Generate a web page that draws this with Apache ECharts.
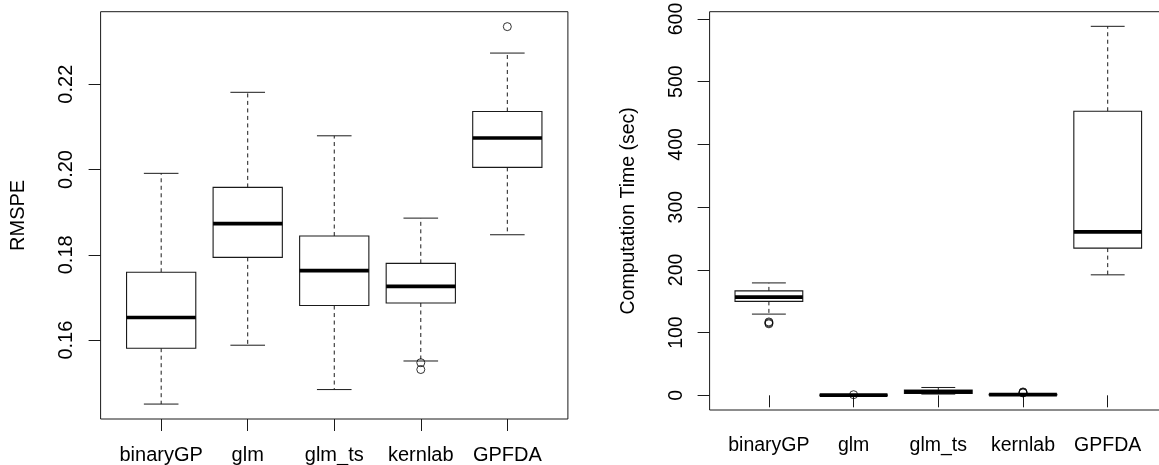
<!DOCTYPE html>
<html>
<head>
<meta charset="utf-8">
<script src="https://cdn.jsdelivr.net/npm/echarts@6/dist/echarts.min.js"></script>
<style>
html,body{margin:0;padding:0;background:#fff;}
#c{width:1159px;height:465px;}
</style>
</head>
<body>
<div id="c"></div>
<script>
// ---- data ----
const categories = ['binaryGP', 'glm', 'glm_ts', 'kernlab', 'GPFDA'];

// [min, Q1, median, Q3, max]
const rmspeStats = [
  [0.1450, 0.1581, 0.1653, 0.1759, 0.1991],
  [0.1588, 0.1794, 0.1873, 0.1958, 0.2181],
  [0.1484, 0.1681, 0.1763, 0.1844, 0.2079],
  [0.1551, 0.1687, 0.1726, 0.1780, 0.1886],
  [0.1847, 0.2005, 0.2074, 0.2136, 0.2273]
];
// [categoryIndex (1-based), value]
const rmspeOutliers = [[4, 0.1547], [4, 0.1531], [5, 0.2335]];

const timeStats = [
  [129.5, 149.8, 156.5, 166.5, 179.2],
  [0.1, 0.2, 0.3, 0.45, 0.7],
  [2.0, 3.0, 5.5, 8.5, 12.5],
  [0.3, 0.7, 1.1, 1.6, 2.6],
  [192.1, 234.7, 260.6, 452.9, 588.3]
];
const timeOutliers = [[1, 114], [1, 115.5], [1, 117], [2, 1.0], [4, 3.8], [4, 4.6], [4, 5.4]];

const rmspeTicks = [0.16, 0.18, 0.20, 0.22];
const timeTicks = [0, 100, 200, 300, 400, 500, 600];
const catTicks = [1, 2, 3, 4, 5];

// ---- chart ----
const FONT = "'Liberation Sans', Arial, Helvetica, sans-serif";
const LINE = '#1a1a1a';

function toBoxData(stats) {
  return stats.map((s, i) => [i + 1].concat(s));
}

function renderBox(params, api) {
  const x = api.value(0);
  const vals = [1, 2, 3, 4, 5].map(d => api.coord([x, api.value(d)])[1]);
  const cx = api.coord([x, api.value(3)])[0];
  const half = api.size([0.4, 0])[0];
  const capHalf = api.size([0.2, 0])[0];
  const [yMin, yQ1, yMed, yQ3, yMax] = vals;
  return {
    type: 'group',
    children: [
      { type: 'line', shape: { x1: cx, y1: yQ3, x2: cx, y2: yMax },
        style: { stroke: LINE, lineWidth: 1, lineDash: [4, 3.5] } },
      { type: 'line', shape: { x1: cx, y1: yQ1, x2: cx, y2: yMin },
        style: { stroke: LINE, lineWidth: 1, lineDash: [4, 3.5] } },
      { type: 'line', shape: { x1: cx - capHalf, y1: yMax, x2: cx + capHalf, y2: yMax },
        style: { stroke: LINE, lineWidth: 1 } },
      { type: 'line', shape: { x1: cx - capHalf, y1: yMin, x2: cx + capHalf, y2: yMin },
        style: { stroke: LINE, lineWidth: 1 } },
      { type: 'rect', shape: { x: cx - half, y: yQ3, width: half * 2, height: yQ1 - yQ3 },
        style: { fill: '#fff', stroke: LINE, lineWidth: 1.1 } },
      { type: 'line', shape: { x1: cx - half, y1: yMed, x2: cx + half, y2: yMed },
        style: { stroke: '#000', lineWidth: 3.6 } }
    ]
  };
}

function xAxisCfg(gridIndex, fontSize, margin) {
  return {
    type: 'value', gridIndex: gridIndex, min: 0.3, max: 5.7,
    splitLine: { show: false }, axisLine: { show: false },
    axisTick: { show: true, length: 12, customValues: catTicks, lineStyle: { color: LINE, width: 1 } },
    axisLabel: {
      customValues: catTicks, margin: margin, color: '#000', fontSize: fontSize, fontFamily: FONT,
      formatter: v => categories[Math.round(v) - 1]
    }
  };
}

function yAxisCfg(gridIndex, min, max, ticks, fmt, name, fontSize, margin, nameGap) {
  return {
    type: 'value', gridIndex: gridIndex, min: min, max: max,
    splitLine: { show: false }, axisLine: { show: false },
    axisTick: { show: true, length: 12, customValues: ticks, lineStyle: { color: LINE, width: 1 } },
    axisLabel: {
      customValues: ticks, rotate: 90, margin: margin, color: '#000', fontSize: fontSize, fontFamily: FONT,
      formatter: fmt
    },
    name: name, nameLocation: 'middle', nameGap: nameGap, nameRotate: 90,
    nameTextStyle: { color: '#000', fontSize: fontSize, fontFamily: FONT }
  };
}

const chart = echarts.init(document.getElementById('c'), null, { renderer: 'canvas' });
chart.setOption({
  animation: false,
  backgroundColor: '#fff',
  grid: [
    { left: 100.6, top: 11.7, width: 467.3, height: 407.3, show: true, borderColor: LINE, borderWidth: 1,
      backgroundColor: 'transparent', containLabel: false, outerBoundsMode: 'none' },
    { left: 709.6, top: 11.7, width: 457.4, height: 398.3, show: true, borderColor: LINE, borderWidth: 1,
      backgroundColor: 'transparent', containLabel: false, outerBoundsMode: 'none' }
  ],
  xAxis: [xAxisCfg(0, 20, 26), xAxisCfg(1, 19.5, 26)],
  yAxis: [
    yAxisCfg(0, 0.1415, 0.2370, rmspeTicks, v => v.toFixed(2), 'RMSPE', 20, 24, 72),
    yAxisCfg(1, -23.4, 611.6, timeTicks, v => String(Math.round(v)), 'Computation Time (sec)', 19.5, 23, 71)
  ],
  series: [
    { type: 'custom', xAxisIndex: 0, yAxisIndex: 0, data: toBoxData(rmspeStats),
      encode: { x: 0, y: [1, 2, 3, 4, 5] }, renderItem: renderBox, silent: true },
    { type: 'scatter', xAxisIndex: 0, yAxisIndex: 0, data: rmspeOutliers, symbol: 'circle', symbolSize: 8,
      itemStyle: { color: 'rgba(0,0,0,0)', borderColor: '#000', borderWidth: 1 }, silent: true },
    { type: 'custom', xAxisIndex: 1, yAxisIndex: 1, data: toBoxData(timeStats),
      encode: { x: 0, y: [1, 2, 3, 4, 5] }, renderItem: renderBox, silent: true },
    { type: 'scatter', xAxisIndex: 1, yAxisIndex: 1, data: timeOutliers, symbol: 'circle', symbolSize: 8,
      itemStyle: { color: 'rgba(0,0,0,0)', borderColor: '#000', borderWidth: 1 }, silent: true }
  ]
});
</script>
</body>
</html>
